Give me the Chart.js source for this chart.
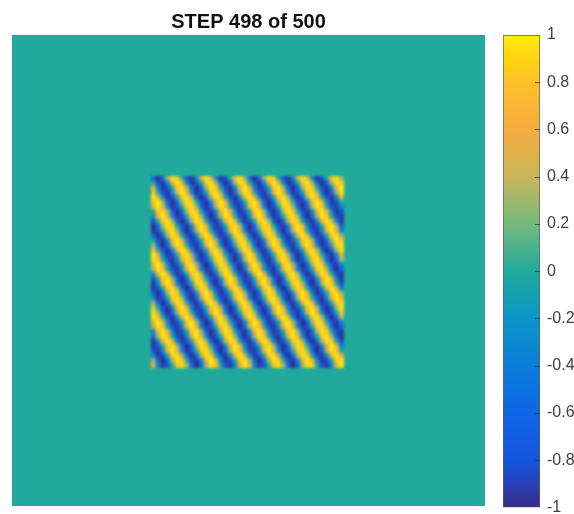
<!DOCTYPE html>
<html>
<head>
<meta charset="utf-8">
<title>STEP 498 of 500</title>
<script src="https://cdn.jsdelivr.net/npm/chart.js@4"></script>
<style>
  html, body { margin: 0; padding: 0; background: #fff; }
  #wrap { position: relative; width: 574px; height: 514px; overflow: hidden; }
  canvas { position: absolute; display: block; }
  #field { left: 0; top: 0; filter: blur(0.4px); }
  #patch { left: 151px; top: 176px; filter: blur(1.8px); }
  #bar { left: 490px; top: 0; filter: blur(0.4px); }
</style>
</head>
<body>
<div id="wrap">
  <canvas id="field" width="497" height="514"></canvas>
  <canvas id="patch" width="193" height="192"></canvas>
  <canvas id="bar" width="84" height="524"></canvas>
</div>
<script>
const titleText = "STEP 498 of 500";
const tickValues = [-1, -0.8, -0.6, -0.4, -0.2, 0, 0.2, 0.4, 0.6, 0.8, 1];
const tickLabels = ["-1", "-0.8", "-0.6", "-0.4", "-0.2", "0", "0.2", "0.4", "0.6", "0.8", "1"];

// colour scale
const cmapValues = [-1, -0.9, -0.8, -0.6, -0.4, -0.2, 0, 0.2, 0.4, 0.6, 0.8, 0.9, 1];
const cmapColors = [
  [53, 42, 135], [40, 65, 182], [20, 85, 222], [15, 102, 230], [10, 125, 216], [10, 150, 200], [32, 170, 155],
  [118, 186, 126], [200, 182, 90], [246, 172, 64], [255, 192, 42], [255, 212, 18], [252, 236, 12]
];

// outer field sits at about zero
const fieldValue = 0;

// centre square, top row first, read across the stripes
const patchRows = [
  [-.59,-1,-.59,.31,.95,.81,0,-.81,-.95,-.31,.59,1,.59,-.31,-.95,-.81,0,.81,.95,.31,-.59,-1,-.59,.31,.95,.81,0,-.81,-.95,-.31,.59,1,.59,-.31,-.95,-.81,0,.81,.95,.31],
  [0,-.81,-.95,-.31,.59,1,.59,-.31,-.95,-.81,0,.81,.95,.31,-.59,-1,-.59,.31,.95,.81,0,-.81,-.95,-.31,.59,1,.59,-.31,-.95,-.81,0,.81,.95,.31,-.59,-1,-.59,.31,.95,.81],
  [.59,-.31,-.95,-.81,0,.81,.95,.31,-.59,-1,-.59,.31,.95,.81,0,-.81,-.95,-.31,.59,1,.59,-.31,-.95,-.81,0,.81,.95,.31,-.59,-1,-.59,.31,.95,.81,0,-.81,-.95,-.31,.59,1],
  [.81,0,-.81,-.95,-.31,.59,1,.59,-.31,-.95,-.81,0,.81,.95,.31,-.59,-1,-.59,.31,.95,.81,0,-.81,-.95,-.31,.59,1,.59,-.31,-.95,-.81,0,.81,.95,.31,-.59,-1,-.59,.31,.95],
  [1,.59,-.31,-.95,-.81,0,.81,.95,.31,-.59,-1,-.59,.31,.95,.81,0,-.81,-.95,-.31,.59,1,.59,-.31,-.95,-.81,0,.81,.95,.31,-.59,-1,-.59,.31,.95,.81,0,-.81,-.95,-.31,.59],
  [.81,.95,.31,-.59,-1,-.59,.31,.95,.81,0,-.81,-.95,-.31,.59,1,.59,-.31,-.95,-.81,0,.81,.95,.31,-.59,-1,-.59,.31,.95,.81,0,-.81,-.95,-.31,.59,1,.59,-.31,-.95,-.81,0],
  [.59,1,.59,-.31,-.95,-.81,0,.81,.95,.31,-.59,-1,-.59,.31,.95,.81,0,-.81,-.95,-.31,.59,1,.59,-.31,-.95,-.81,0,.81,.95,.31,-.59,-1,-.59,.31,.95,.81,0,-.81,-.95,-.31],
  [0,.81,.95,.31,-.59,-1,-.59,.31,.95,.81,0,-.81,-.95,-.31,.59,1,.59,-.31,-.95,-.81,0,.81,.95,.31,-.59,-1,-.59,.31,.95,.81,0,-.81,-.95,-.31,.59,1,.59,-.31,-.95,-.81],
  [-.31,.59,1,.59,-.31,-.95,-.81,0,.81,.95,.31,-.59,-1,-.59,.31,.95,.81,0,-.81,-.95,-.31,.59,1,.59,-.31,-.95,-.81,0,.81,.95,.31,-.59,-1,-.59,.31,.95,.81,0,-.81,-.95],
  [-.81,0,.81,.95,.31,-.59,-1,-.59,.31,.95,.81,0,-.81,-.95,-.31,.59,1,.59,-.31,-.95,-.81,0,.81,.95,.31,-.59,-1,-.59,.31,.95,.81,0,-.81,-.95,-.31,.59,1,.59,-.31,-.95],
  [-1,-.59,.31,.95,.81,0,-.81,-.95,-.31,.59,1,.59,-.31,-.95,-.81,0,.81,.95,.31,-.59,-1,-.59,.31,.95,.81,0,-.81,-.95,-.31,.59,1,.59,-.31,-.95,-.81,0,.81,.95,.31,-.59],
  [-.95,-.81,0,.81,.95,.31,-.59,-1,-.59,.31,.95,.81,0,-.81,-.95,-.31,.59,1,.59,-.31,-.95,-.81,0,.81,.95,.31,-.59,-1,-.59,.31,.95,.81,0,-.81,-.95,-.31,.59,1,.59,-.31],
  [-.59,-1,-.59,.31,.95,.81,0,-.81,-.95,-.31,.59,1,.59,-.31,-.95,-.81,0,.81,.95,.31,-.59,-1,-.59,.31,.95,.81,0,-.81,-.95,-.31,.59,1,.59,-.31,-.95,-.81,0,.81,.95,.31],
  [0,-.81,-.95,-.31,.59,1,.59,-.31,-.95,-.81,0,.81,.95,.31,-.59,-1,-.59,.31,.95,.81,0,-.81,-.95,-.31,.59,1,.59,-.31,-.95,-.81,0,.81,.95,.31,-.59,-1,-.59,.31,.95,.81],
  [.31,-.59,-1,-.59,.31,.95,.81,0,-.81,-.95,-.31,.59,1,.59,-.31,-.95,-.81,0,.81,.95,.31,-.59,-1,-.59,.31,.95,.81,0,-.81,-.95,-.31,.59,1,.59,-.31,-.95,-.81,0,.81,.95],
  [.81,0,-.81,-.95,-.31,.59,1,.59,-.31,-.95,-.81,0,.81,.95,.31,-.59,-1,-.59,.31,.95,.81,0,-.81,-.95,-.31,.59,1,.59,-.31,-.95,-.81,0,.81,.95,.31,-.59,-1,-.59,.31,.95],
  [1,.59,-.31,-.95,-.81,0,.81,.95,.31,-.59,-1,-.59,.31,.95,.81,0,-.81,-.95,-.31,.59,1,.59,-.31,-.95,-.81,0,.81,.95,.31,-.59,-1,-.59,.31,.95,.81,0,-.81,-.95,-.31,.59],
  [.95,.81,0,-.81,-.95,-.31,.59,1,.59,-.31,-.95,-.81,0,.81,.95,.31,-.59,-1,-.59,.31,.95,.81,0,-.81,-.95,-.31,.59,1,.59,-.31,-.95,-.81,0,.81,.95,.31,-.59,-1,-.59,.31],
  [.59,1,.59,-.31,-.95,-.81,0,.81,.95,.31,-.59,-1,-.59,.31,.95,.81,0,-.81,-.95,-.31,.59,1,.59,-.31,-.95,-.81,0,.81,.95,.31,-.59,-1,-.59,.31,.95,.81,0,-.81,-.95,-.31],
  [.31,.95,.81,0,-.81,-.95,-.31,.59,1,.59,-.31,-.95,-.81,0,.81,.95,.31,-.59,-1,-.59,.31,.95,.81,0,-.81,-.95,-.31,.59,1,.59,-.31,-.95,-.81,0,.81,.95,.31,-.59,-1,-.59],
  [-.31,.59,1,.59,-.31,-.95,-.81,0,.81,.95,.31,-.59,-1,-.59,.31,.95,.81,0,-.81,-.95,-.31,.59,1,.59,-.31,-.95,-.81,0,.81,.95,.31,-.59,-1,-.59,.31,.95,.81,0,-.81,-.95],
  [-.81,0,.81,.95,.31,-.59,-1,-.59,.31,.95,.81,0,-.81,-.95,-.31,.59,1,.59,-.31,-.95,-.81,0,.81,.95,.31,-.59,-1,-.59,.31,.95,.81,0,-.81,-.95,-.31,.59,1,.59,-.31,-.95],
  [-.95,-.31,.59,1,.59,-.31,-.95,-.81,0,.81,.95,.31,-.59,-1,-.59,.31,.95,.81,0,-.81,-.95,-.31,.59,1,.59,-.31,-.95,-.81,0,.81,.95,.31,-.59,-1,-.59,.31,.95,.81,0,-.81],
  [-.95,-.81,0,.81,.95,.31,-.59,-1,-.59,.31,.95,.81,0,-.81,-.95,-.31,.59,1,.59,-.31,-.95,-.81,0,.81,.95,.31,-.59,-1,-.59,.31,.95,.81,0,-.81,-.95,-.31,.59,1,.59,-.31],
  [-.59,-1,-.59,.31,.95,.81,0,-.81,-.95,-.31,.59,1,.59,-.31,-.95,-.81,0,.81,.95,.31,-.59,-1,-.59,.31,.95,.81,0,-.81,-.95,-.31,.59,1,.59,-.31,-.95,-.81,0,.81,.95,.31],
  [-.31,-.95,-.81,0,.81,.95,.31,-.59,-1,-.59,.31,.95,.81,0,-.81,-.95,-.31,.59,1,.59,-.31,-.95,-.81,0,.81,.95,.31,-.59,-1,-.59,.31,.95,.81,0,-.81,-.95,-.31,.59,1,.59],
  [.31,-.59,-1,-.59,.31,.95,.81,0,-.81,-.95,-.31,.59,1,.59,-.31,-.95,-.81,0,.81,.95,.31,-.59,-1,-.59,.31,.95,.81,0,-.81,-.95,-.31,.59,1,.59,-.31,-.95,-.81,0,.81,.95],
  [.81,0,-.81,-.95,-.31,.59,1,.59,-.31,-.95,-.81,0,.81,.95,.31,-.59,-1,-.59,.31,.95,.81,0,-.81,-.95,-.31,.59,1,.59,-.31,-.95,-.81,0,.81,.95,.31,-.59,-1,-.59,.31,.95],
  [.95,.31,-.59,-1,-.59,.31,.95,.81,0,-.81,-.95,-.31,.59,1,.59,-.31,-.95,-.81,0,.81,.95,.31,-.59,-1,-.59,.31,.95,.81,0,-.81,-.95,-.31,.59,1,.59,-.31,-.95,-.81,0,.81],
  [.95,.81,0,-.81,-.95,-.31,.59,1,.59,-.31,-.95,-.81,0,.81,.95,.31,-.59,-1,-.59,.31,.95,.81,0,-.81,-.95,-.31,.59,1,.59,-.31,-.95,-.81,0,.81,.95,.31,-.59,-1,-.59,.31],
  [.59,1,.59,-.31,-.95,-.81,0,.81,.95,.31,-.59,-1,-.59,.31,.95,.81,0,-.81,-.95,-.31,.59,1,.59,-.31,-.95,-.81,0,.81,.95,.31,-.59,-1,-.59,.31,.95,.81,0,-.81,-.95,-.31],
  [.31,.95,.81,0,-.81,-.95,-.31,.59,1,.59,-.31,-.95,-.81,0,.81,.95,.31,-.59,-1,-.59,.31,.95,.81,0,-.81,-.95,-.31,.59,1,.59,-.31,-.95,-.81,0,.81,.95,.31,-.59,-1,-.59],
  [-.31,.59,1,.59,-.31,-.95,-.81,0,.81,.95,.31,-.59,-1,-.59,.31,.95,.81,0,-.81,-.95,-.31,.59,1,.59,-.31,-.95,-.81,0,.81,.95,.31,-.59,-1,-.59,.31,.95,.81,0,-.81,-.95],
  [-.59,.31,.95,.81,0,-.81,-.95,-.31,.59,1,.59,-.31,-.95,-.81,0,.81,.95,.31,-.59,-1,-.59,.31,.95,.81,0,-.81,-.95,-.31,.59,1,.59,-.31,-.95,-.81,0,.81,.95,.31,-.59,-1],
  [-.95,-.31,.59,1,.59,-.31,-.95,-.81,0,.81,.95,.31,-.59,-1,-.59,.31,.95,.81,0,-.81,-.95,-.31,.59,1,.59,-.31,-.95,-.81,0,.81,.95,.31,-.59,-1,-.59,.31,.95,.81,0,-.81],
  [-.95,-.81,0,.81,.95,.31,-.59,-1,-.59,.31,.95,.81,0,-.81,-.95,-.31,.59,1,.59,-.31,-.95,-.81,0,.81,.95,.31,-.59,-1,-.59,.31,.95,.81,0,-.81,-.95,-.31,.59,1,.59,-.31],
  [-.81,-.95,-.31,.59,1,.59,-.31,-.95,-.81,0,.81,.95,.31,-.59,-1,-.59,.31,.95,.81,0,-.81,-.95,-.31,.59,1,.59,-.31,-.95,-.81,0,.81,.95,.31,-.59,-1,-.59,.31,.95,.81,0],
  [-.31,-.95,-.81,0,.81,.95,.31,-.59,-1,-.59,.31,.95,.81,0,-.81,-.95,-.31,.59,1,.59,-.31,-.95,-.81,0,.81,.95,.31,-.59,-1,-.59,.31,.95,.81,0,-.81,-.95,-.31,.59,1,.59],
  [.31,-.59,-1,-.59,.31,.95,.81,0,-.81,-.95,-.31,.59,1,.59,-.31,-.95,-.81,0,.81,.95,.31,-.59,-1,-.59,.31,.95,.81,0,-.81,-.95,-.31,.59,1,.59,-.31,-.95,-.81,0,.81,.95],
  [.59,-.31,-.95,-.81,0,.81,.95,.31,-.59,-1,-.59,.31,.95,.81,0,-.81,-.95,-.31,.59,1,.59,-.31,-.95,-.81,0,.81,.95,.31,-.59,-1,-.59,.31,.95,.81,0,-.81,-.95,-.31,.59,1]
];

function rgbFor(v) {
  let i = 0;
  while (i < cmapValues.length - 2 && v > cmapValues[i + 1]) i++;
  const t = (v - cmapValues[i]) / (cmapValues[i + 1] - cmapValues[i]);
  const a = cmapColors[i], b = cmapColors[i + 1];
  return `rgb(${a[0] + (b[0] - a[0]) * t}, ${a[1] + (b[1] - a[1]) * t}, ${a[2] + (b[2] - a[2]) * t})`;
}

Chart.defaults.animation = false;
Chart.defaults.responsive = false;
Chart.defaults.font.family = '"Liberation Sans", Arial, sans-serif';
Chart.defaults.plugins.legend.display = false;
Chart.defaults.plugins.tooltip.enabled = false;

// the outer field with the title
new Chart(document.getElementById("field"), {
  type: "bar",
  data: {
    labels: ["field"],
    datasets: [{
      data: [[0, 1]],
      backgroundColor: rgbFor(fieldValue),
      barPercentage: 1,
      categoryPercentage: 1
    }]
  },
  options: {
    layout: { padding: { left: 12, right: 12, bottom: 8 } },
    plugins: {
      title: {
        display: true,
        text: titleText,
        color: "#111",
        font: { size: 20, weight: "bold" },
        padding: { top: 10, bottom: 1 }
      }
    },
    scales: {
      x: { display: false },
      y: { display: false, min: 0, max: 1 }
    }
  }
});

// the striped square, one rect point per cell
const patchPoints = [];
patchRows.forEach((row, r) => row.forEach((v, c) => patchPoints.push({ x: c + 0.5, y: r + 0.5, v: v })));

new Chart(document.getElementById("patch"), {
  type: "scatter",
  data: {
    datasets: [{
      data: patchPoints,
      pointStyle: "rect",
      pointRadius: 3.9,
      borderWidth: 0,
      backgroundColor: (ctx) => ctx.raw ? rgbFor(ctx.raw.v) : "transparent"
    }]
  },
  options: {
    layout: { autoPadding: false },
    scales: {
      x: { display: false, min: 0, max: patchRows[0].length },
      y: { display: false, min: 0, max: patchRows.length, reverse: true }
    }
  }
});

// short inward tick marks on the right side of the colorbar
const innerTicks = {
  id: "innerTicks",
  afterDatasetsDraw(chart) {
    const { ctx, chartArea, scales } = chart;
    ctx.save();
    ctx.lineWidth = 1;
    ctx.strokeStyle = "rgba(50,50,50,0.75)";
    tickValues.slice(1, -1).forEach((v) => {
      const y = Math.round(scales.y.getPixelForValue(v)) + 0.5;
      ctx.beginPath();
      ctx.moveTo(chartArea.right - 5, y);
      ctx.lineTo(chartArea.right, y);
      ctx.stroke();
    });
    ctx.restore();
  }
};

new Chart(document.getElementById("bar"), {
  type: "bar",
  plugins: [innerTicks],
  data: {
    labels: ["colorbar"],
    datasets: [{
      data: [[-1, 1]],
      barPercentage: 1,
      categoryPercentage: 1,
      borderWidth: 1,
      borderSkipped: false,
      borderColor: "#5c5c5c",
      backgroundColor: (ctx) => {
        const chart = ctx.chart;
        if (!chart.chartArea) return "transparent";
        const y = chart.scales.y;
        const grad = chart.ctx.createLinearGradient(0, y.getPixelForValue(-1), 0, y.getPixelForValue(1));
        cmapValues.forEach((v) => grad.addColorStop((v + 1) / 2, rgbFor(v)));
        return grad;
      }
    }]
  },
  options: {
    layout: { autoPadding: false, padding: { left: 13, top: 35, bottom: 7 } },
    scales: {
      x: { display: false },
      y: {
        position: "right",
        min: -1,
        max: 1,
        afterFit: (axis) => { axis.width = 34; },
        afterBuildTicks: (axis) => { axis.ticks = tickValues.map((v) => ({ value: v })); },
        grid: { display: false, drawTicks: false },
        border: { display: false },
        ticks: {
          padding: 7,
          color: "#404040",
          font: { size: 16 },
          autoSkip: false,
          callback: (value, index) => tickLabels[index]
        }
      }
    }
  }
});
</script>
</body>
</html>
